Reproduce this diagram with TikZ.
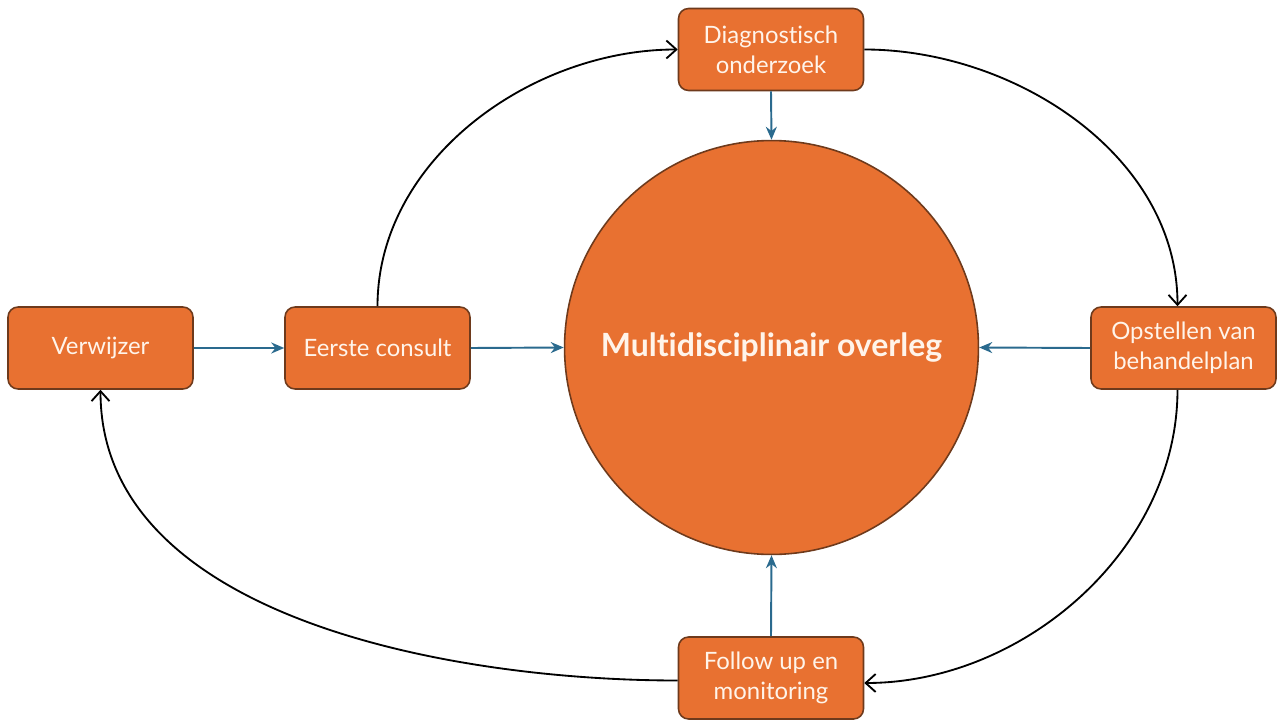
\documentclass[tikz,border=0pt]{standalone}
\usepackage{fontspec}
\setmainfont{Lato}[Ligatures={NoCommon}]
\usetikzlibrary{arrows.meta}
\definecolor{boxfill}{HTML}{E87131}
\definecolor{boxedge}{HTML}{6E3A1C}
\definecolor{boxtext}{HTML}{FFF4EA}
\definecolor{bluearrow}{HTML}{2A6A8E}
\tikzset{
  box/.style={draw=boxedge, line width=0.9pt, fill=boxfill, rounded corners=0.2cm,
    minimum width=3.7cm, minimum height=1.64cm, align=center, text=boxtext,
    font=\fontsize{13.6}{17}\selectfont, inner sep=0pt},
  hub/.style={circle, draw=boxedge, line width=0.9pt, fill=boxfill, minimum size=8.28cm,
    text=boxtext, font=\bfseries\fontsize{18.2}{22}\selectfont, inner sep=0pt},
  blue/.style={draw=bluearrow, line width=1.1pt, -{Stealth[length=2.6mm,width=2.2mm]}},
  flow/.style={draw=black, line width=1.05pt, -{Straight Barb[length=2mm,width=3.6mm]}}
}
\begin{document}
\begin{tikzpicture}[x=0.02cm,y=-0.02cm]
\useasboundingbox (0,0) rectangle (1279,720);
\node[box] (verw) at (100.5,348) {Verwijzer};
\node[box] (eerste) at (377.5,348) {Eerste consult};
\node[box] (diag) at (771,49.5) {Diagnostisch\\onderzoek};
\node[box] (opst) at (1183.5,348) {Opstellen van\\behandelplan};
\node[box] (follow) at (771,678) {Follow up en\\monitoring};
\node[hub] (mdo) at (771.5,347.5) {Multidisciplinair overleg};
\draw[blue] (verw.east) -- (eerste.west);
\draw[blue] (eerste.east) -- (mdo.west);
\draw[blue] (opst.west) -- (mdo.east);
\draw[blue] (diag.south) -- (mdo.north);
\draw[blue] (follow.north) -- (mdo.south);
\draw[flow] (eerste.north) to[out=90,in=180,looseness=0.95] (diag.west);
\draw[flow] (diag.east) to[out=0,in=90,looseness=0.95] ([xshift=-0.12cm]opst.north);
\draw[flow] ([xshift=-0.12cm]opst.south) to[out=-90,in=0,looseness=0.95] ([yshift=-0.1cm]follow.east);
\draw[flow] ([yshift=-0.05cm]follow.west) to[out=180,in=-90,looseness=0.9] (verw.south);
\end{tikzpicture}
\end{document}
